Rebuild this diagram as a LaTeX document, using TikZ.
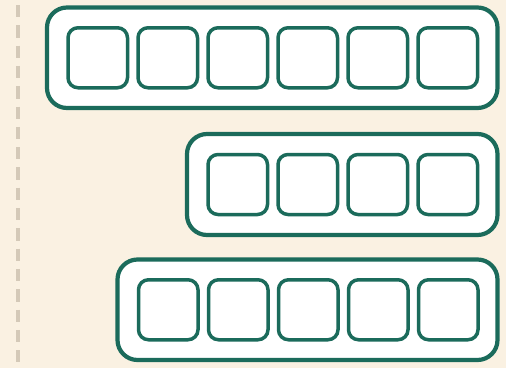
\documentclass[tikz,border=0pt]{standalone}
\usepackage{tikz}
\usetikzlibrary{positioning}

\definecolor{panelgreen}{HTML}{1B6B5B}
\definecolor{paper}{HTML}{FAF1E2}
\definecolor{guidegray}{HTML}{D4C9B8}

\begin{document}
\begin{tikzpicture}[
    x=1pt, y=-1pt,
    node distance=10.5pt,
    box/.style={draw=panelgreen, line width=4.2pt, fill=white, rounded corners=20pt, outer sep=0pt, inner sep=0pt, minimum height=100.5pt},
    cell/.style={draw=panelgreen, line width=3.5pt, fill=white, rounded corners=10pt, outer sep=0pt, inner sep=0pt, minimum width=59.5pt, minimum height=60pt},
    guide/.style={draw=guidegray, line width=4pt, dash pattern=on 12.3pt off 8pt}
]
    \fill[paper] (0,0) rectangle (506,368);
    \coordinate (gtop) at (18,5);
    \coordinate (gbot) at (18,368);
    \draw [guide] (gtop) -- (gbot);

    \node (row1) [box, minimum width=450.5pt] at (272.25,57.75) {};
    \node (row2) [box, minimum width=310.5pt, minimum height=101pt] at (342.25,184.5) {};
    \node (row3) [box, minimum width=380pt] at (307.5,309.75) {};

    \node (r1c1) [cell, right=21pt of row1.west] {};
    \node (r1c2) [cell, right=of r1c1] {};
    \node (r1c3) [cell, right=of r1c2] {};
    \node (r1c4) [cell, right=of r1c3] {};
    \node (r1c5) [cell, right=of r1c4] {};
    \node (r1c6) [cell, right=of r1c5] {};

    \node (r2c1) [cell, right=21pt of row2.west] {};
    \node (r2c2) [cell, right=of r2c1] {};
    \node (r2c3) [cell, right=of r2c2] {};
    \node (r2c4) [cell, right=of r2c3] {};

    \node (r3c1) [cell, right=21pt of row3.west] {};
    \node (r3c2) [cell, right=of r3c1] {};
    \node (r3c3) [cell, right=of r3c2] {};
    \node (r3c4) [cell, right=of r3c3] {};
    \node (r3c5) [cell, right=of r3c4] {};
\end{tikzpicture}
\end{document}
